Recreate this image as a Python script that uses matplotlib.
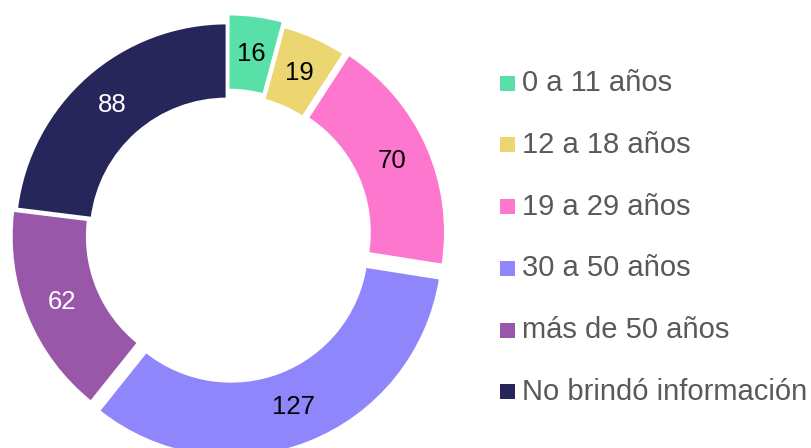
import matplotlib
matplotlib.use("Agg")
import matplotlib.pyplot as plt
from matplotlib.patches import Rectangle

plt.rcParams['font.family'] = ['Liberation Sans', 'DejaVu Sans']

categories = ["0 a 11 años", "12 a 18 años", "19 a 29 años", "30 a 50 años",
              "más de 50 años", "No brindó información"]
values = [16, 19, 70, 127, 62, 88]
colors = ["#58E0A8", "#EBD672", "#FD77CF", "#8F86FC", "#9857A8", "#27265B"]
label_colors = ["black", "black", "black", "black", "white", "white"]
explode = [9, 4, 7, 11, 4, 0]  # offsets in pixels

W, H = 812, 448
fig = plt.figure(figsize=(W / 100, H / 100), dpi=100)
ax = fig.add_axes([0, 0, 1, 1])

total = sum(values)
R = 212
wedges, texts, autotexts = ax.pie(
    values, explode=explode, colors=colors, startangle=90, counterclock=False,
    radius=R, center=(227, H - 235),
    wedgeprops=dict(width=76, edgecolor='white', linewidth=2),
    autopct=lambda p: f"{p * total / 100:.0f}", pctdistance=0.82,
    textprops=dict(fontsize=18.5))
for t, c in zip(autotexts, label_colors):
    t.set_color(c)

ax.set_xlim(0, W)
ax.set_ylim(0, H)
ax.set_aspect('equal')
ax.axis('off')

# legend
for i, (lab, col) in enumerate(zip(categories, colors)):
    yc = H - (83 + 61.8 * i)
    ax.add_patch(Rectangle((500, yc - 7.5), 15, 15, facecolor=col, edgecolor='none'))
    ax.text(522, yc, lab, fontsize=21, color='#595959', va='center', ha='left')

fig.savefig("out.png", dpi=100)
